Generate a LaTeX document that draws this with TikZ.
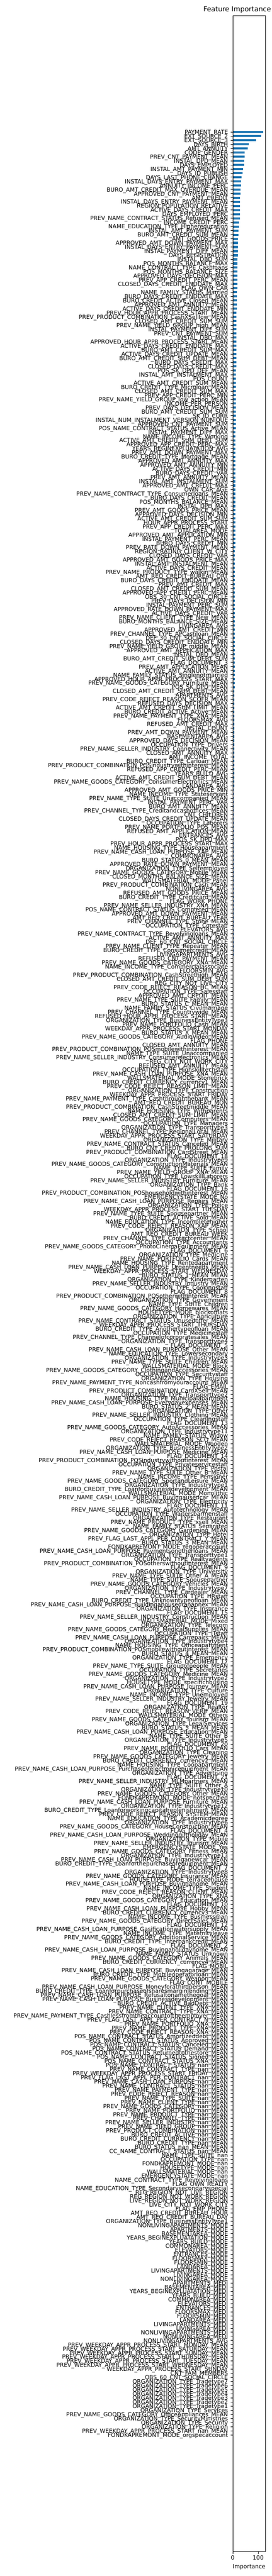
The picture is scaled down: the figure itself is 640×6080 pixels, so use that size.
\documentclass[tikz,border=0pt]{standalone}
\usepackage{fontspec}
\setmainfont{DejaVu Sans}
\definecolor{barblue}{HTML}{1F77B4}
\tikzset{
  lab/.style={anchor=base east, inner sep=0pt, font=\fontsize{13.4}{14}\selectfont},
  ticklab/.style={anchor=base, inner sep=0pt, font=\fontsize{13.4}{14}\selectfont},
  ttl/.style={anchor=base west, inner sep=0pt, font=\fontsize{16.2}{17}\selectfont},
  tickmark/.style={line width=0.8pt},
  barfill/.style={fill=barblue},
  axframe/.style={line width=0.9pt}
}
\begin{document}
\catcode`\_=12
\begin{tikzpicture}[x=1pt,y=-1pt]
\useasboundingbox (0,0) rectangle (640,6080);
\clip (0,0) rectangle (640,6080);
\fill[white] (0,0) rectangle (640,6080);
% bars
\foreach \a/\b/\w in {0/0/72.4,1/1/67.4,2/2/54.4,3/3/38.4,4/4/35.4,5/6/27.7,7/8/26.7,9/9/24.4,10/10/23.7,11/11/20.4,12/13/19.7,14/15/18.7,16/21/16.7,22/23/14.7,24/25/13.7,26/27/12.7,28/30/11.7,31/38/10.7,39/43/9.7,44/57/8.4,58/72/7.6,73/82/6.7,83/101/5.7,102/135/4.8,136/159/3.7,160/200/2.7,201/217/1.8,218/278/0.9}{
  \foreach \i in {\a,...,\b}{
    \fill[barfill] (548.3,{311.3+9.707*\i-2.5}) rectangle ++(\w,5);
  }
}
% labels and ticks
\foreach \t [count=\i from 0] in {PAYMENT_RATE,
EXT_SOURCE_2,
EXT_SOURCE_3,
DAYS_BIRTH,
AMT_ANNUITY,
CODE_GENDER,
PREV_CNT_PAYMENT_MEAN,
INSTAL_DPD_MEAN,
DAYS_EMPLOYED,
INSTAL_AMT_PAYMENT_MIN,
DAYS_ID_PUBLISH,
DAYS_LAST_PHONE_CHANGE,
INSTAL_DAYS_ENTRY_PAYMENT_MAX,
ANNUITY_INCOME_PERC,
BURO_AMT_CREDIT_MAX_OVERDUE_MEAN,
APPROVED_CNT_PAYMENT_MEAN,
AMT_CREDIT,
INSTAL_DAYS_ENTRY_PAYMENT_MEAN,
REGION_POPULATION_RELATIVE,
ACTIVE_DAYS_CREDIT_MAX,
DAYS_EMPLOYED_PERC,
PREV_NAME_CONTRACT_STATUS_Refused_MEAN,
INCOME_CREDIT_PERC,
NAME_EDUCATION_TYPE_Highereducation,
INSTAL_AMT_PAYMENT_SUM,
BURO_AMT_CREDIT_SUM_MEAN,
AMT_GOODS_PRICE,
APPROVED_AMT_DOWN_PAYMENT_MAX,
INSTAL_DAYS_ENTRY_PAYMENT_SUM,
INSTAL_PAYMENT_DIFF_MEAN,
DAYS_REGISTRATION,
INSTAL_DBD_SUM,
POS_MONTHS_BALANCE_MAX,
NAME_CONTRACT_TYPE_Cashloans,
POS_MONTHS_BALANCE_SIZE,
APPROVED_DAYS_DECISION_MAX,
PREV_APP_CREDIT_PERC_MEAN,
CLOSED_DAYS_CREDIT_ENDDATE_MAX,
FLAG_OWN_CAR,
NAME_FAMILY_STATUS_Married,
BURO_DAYS_CREDIT_ENDDATE_MAX,
BURO_CREDIT_ACTIVE_Closed_MEAN,
APPROVED_AMT_ANNUITY_MEAN,
ACTIVE_DAYS_CREDIT_ENDDATE_MIN,
PREV_HOUR_APPR_PROCESS_START_MEAN,
PREV_PRODUCT_COMBINATION_CashXSelllow_MEAN,
CLOSED_AMT_CREDIT_SUM_SUM,
PREV_NAME_YIELD_GROUP_high_MEAN,
INSTAL_PAYMENT_DIFF_SUM,
PREV_CNT_PAYMENT_SUM,
INSTAL_DBD_MAX,
APPROVED_HOUR_APPR_PROCESS_START_MEAN,
ACTIVE_DAYS_CREDIT_ENDDATE_MAX,
BURO_AMT_CREDIT_SUM_MAX,
ACTIVE_DAYS_CREDIT_UPDATE_MEAN,
BURO_AMT_CREDIT_SUM_DEBT_MEAN,
BURO_DAYS_CREDIT_MAX,
CLOSED_DAYS_CREDIT_MAX,
POS_SK_DPD_DEF_MEAN,
INSTAL_AMT_INSTALMENT_MAX,
POS_COUNT,
ACTIVE_AMT_CREDIT_SUM_MEAN,
BURO_CREDIT_TYPE_Microloan_MEAN,
CLOSED_AMT_CREDIT_SUM_MAX,
PREV_APP_CREDIT_PERC_MIN,
PREV_NAME_YIELD_GROUP_low_action_MEAN,
INCOME_PER_PERSON,
PREV_DAYS_DECISION_MEAN,
BURO_AMT_CREDIT_SUM_SUM,
SK_ID_CURR,
INSTAL_NUM_INSTALMENT_VERSION_NUNIQUE,
APPROVED_CNT_PAYMENT_SUM,
POS_NAME_CONTRACT_STATUS_Active_MEAN,
INSTAL_PAYMENT_DIFF_MAX,
NAME_INCOME_TYPE_Working,
ACTIVE_AMT_CREDIT_SUM_DEBT_SUM,
APPROVED_APP_CREDIT_PERC_MAX,
YEARS_BEGINEXPLUATATION_AVG,
PREV_AMT_DOWN_PAYMENT_MAX,
BURO_CREDIT_TYPE_Mortgage_MEAN,
APPROVED_AMT_ANNUITY_MAX,
APPROVED_AMT_ANNUITY_MIN,
ACTIVE_DAYS_CREDIT_MIN,
BURO_DAYS_CREDIT_VAR,
PREV_AMT_ANNUITY_MEAN,
INSTAL_AMT_INSTALMENT_SUM,
APPROVED_AMT_CREDIT_MAX,
OWN_CAR_AGE,
PREV_NAME_CONTRACT_TYPE_Consumerloans_MEAN,
BURO_DAYS_CREDIT_MEAN,
POS_MONTHS_BALANCE_MEAN,
INSTAL_DPD_MAX,
PREV_AMT_GOODS_PRICE_MEAN,
APPROVED_DAYS_DECISION_MIN,
ACTIVE_AMT_CREDIT_SUM_SUM,
HOUR_APPR_PROCESS_START,
PREV_APP_CREDIT_PERC_MAX,
TOTALAREA_MODE,
APPROVED_AMT_APPLICATION_MIN,
INSTAL_PAYMENT_PERC_MEAN,
BURO_DAYS_CREDIT_MIN,
PREV_RATE_DOWN_PAYMENT_MEAN,
REGION_RATING_CLIENT_W_CITY,
CLOSED_DAYS_CREDIT_VAR,
APPROVED_AMT_GOODS_PRICE_MAX,
INSTAL_AMT_INSTALMENT_MEAN,
ACTIVE_DAYS_CREDIT_MEAN,
PREV_NAME_PRODUCT_TYPE_walkin_MEAN,
AMT_REQ_CREDIT_BUREAU_QRT,
BURO_DAYS_CREDIT_ENDDATE_MEAN,
PREV_AMT_CREDIT_MAX,
CLOSED_AMT_CREDIT_SUM_MEAN,
APPROVED_APP_CREDIT_PERC_MEAN,
OBS_30_CNT_SOCIAL_CIRCLE,
PREV_DAYS_DECISION_MIN,
INSTAL_PAYMENT_PERC_SUM,
APPROVED_RATE_DOWN_PAYMENT_MAX,
ACTIVE_DAYS_CREDIT_VAR,
PREV_NAME_CLIENT_TYPE_New_MEAN,
BURO_MONTHS_BALANCE_SIZE_MEAN,
LIVINGAREA_AVG,
APPROVED_AMT_CREDIT_MIN,
PREV_CHANNEL_TYPE_APCashloan_MEAN,
DEF_30_CNT_SOCIAL_CIRCLE,
CLOSED_DAYS_CREDIT_ENDDATE_MIN,
PREV_NAME_YIELD_GROUP_middle_MEAN,
APPROVED_AMT_APPLICATION_MAX,
INSTAL_DBD_MEAN,
BURO_AMT_CREDIT_SUM_DEBT_SUM,
FLAG_DOCUMENT_3,
PREV_AMT_APPLICATION_MEAN,
ACTIVE_AMT_ANNUITY_MEAN,
NAME_FAMILY_STATUS_Singlenotmarried,
APPROVED_HOUR_APPR_PROCESS_START_MAX,
PREV_NAME_GOODS_CATEGORY_Furniture_MEAN,
POS_SK_DPD_MEAN,
CLOSED_AMT_CREDIT_SUM_DEBT_MEAN,
APARTMENTS_AVG,
PREV_CODE_REJECT_REASON_SCOFR_MEAN,
REFUSED_DAYS_DECISION_MAX,
ACTIVE_AMT_CREDIT_SUM_LIMIT_MEAN,
BURO_CREDIT_ACTIVE_Active_MEAN,
PREV_NAME_PAYMENT_TYPE_XNA_MEAN,
FLOORSMAX_AVG,
REFUSED_AMT_CREDIT_MAX,
INSTAL_COUNT,
PREV_AMT_DOWN_PAYMENT_MEAN,
BASEMENTAREA_AVG,
APPROVED_DAYS_DECISION_MEAN,
OCCUPATION_TYPE_Drivers,
PREV_NAME_SELLER_INDUSTRY_Connectivity_MEAN,
CLOSED_AMT_ANNUITY_MAX,
AMT_INCOME_TOTAL,
BURO_CREDIT_TYPE_Carloan_MEAN,
PREV_PRODUCT_COMBINATION_POSindustrywithinterest_MEAN,
REFUSED_APP_CREDIT_PERC_MEAN,
YEARS_BUILD_AVG,
ACTIVE_AMT_CREDIT_SUM_DEBT_MEAN,
PREV_NAME_GOODS_CATEGORY_ConsumerElectronics_MEAN,
LANDAREA_AVG,
APPROVED_AMT_GOODS_PRICE_MIN,
NAME_INCOME_TYPE_Stateservant,
PREV_NAME_TYPE_SUITE_Unaccompanied_MEAN,
INSTAL_PAYMENT_PERC_VAR,
BURO_AMT_ANNUITY_MEAN,
PREV_CHANNEL_TYPE_Creditandcashoffices_MEAN,
CNT_CHILDREN,
CLOSED_DAYS_CREDIT_UPDATE_MEAN,
OCCUPATION_TYPE_Laborers,
PREV_NAME_PORTFOLIO_POS_MEAN,
REFUSED_AMT_APPLICATION_MEAN,
ENTRANCES_AVG,
POS_SK_DPD_MAX,
PREV_HOUR_APPR_PROCESS_START_MAX,
NAME_HOUSING_TYPE_Houseapartment,
PREV_NAME_CASH_LOAN_PURPOSE_XAP_MEAN,
COMMONAREA_AVG,
BURO_STATUS_0_MEAN_MEAN,
APPROVED_RATE_DOWN_PAYMENT_MEAN,
ORGANIZATION_TYPE_Selfemployed,
PREV_NAME_GOODS_CATEGORY_Mobile_MEAN,
CLOSED_MONTHS_BALANCE_SIZE_MEAN,
WALLSMATERIAL_MODE_Panel,
PREV_PRODUCT_COMBINATION_Cash_MEAN,
NONLIVINGAREA_AVG,
REFUSED_AMT_GOODS_PRICE_MEAN,
BURO_CREDIT_TYPE_Creditcard_MEAN,
FLAG_WORK_PHONE,
PREV_NAME_SELLER_INDUSTRY_XNA_MEAN,
POS_NAME_CONTRACT_STATUS_Completed_MEAN,
APPROVED_AMT_DOWN_PAYMENT_MEAN,
AMT_REQ_CREDIT_BUREAU_YEAR,
PREV_CHANNEL_TYPE_Stone_MEAN,
OCCUPATION_TYPE_Corestaff,
ELEVATORS_AVG,
PREV_NAME_CONTRACT_TYPE_Revolvingloans_MEAN,
ACTIVE_AMT_ANNUITY_MAX,
DEF_60_CNT_SOCIAL_CIRCLE,
PREV_NAME_CLIENT_TYPE_Repeater_MEAN,
BURO_CREDIT_TYPE_Consumercredit_MEAN,
LIVINGAPARTMENTS_AVG,
REFUSED_CNT_PAYMENT_MEAN,
PREV_NAME_GOODS_CATEGORY_XNA_MEAN,
NAME_INCOME_TYPE_Commercialassociate,
FLOORSMIN_AVG,
PREV_PRODUCT_COMBINATION_CashStreethigh_MEAN,
CLOSED_AMT_CREDIT_SUM_DEBT_SUM,
REG_CITY_NOT_LIVE_CITY,
PREV_CODE_REJECT_REASON_HC_MEAN,
OCCUPATION_TYPE_Salesstaff,
APPROVED_AMT_CREDIT_MEAN,
PREV_NAME_TYPE_SUITE_Family_MEAN,
BURO_STATUS_C_MEAN_MEAN,
NAME_FAMILY_STATUS_Civilmarriage,
PREV_CHANNEL_TYPE_Countrywide_MEAN,
REFUSED_HOUR_APPR_PROCESS_START_MEAN,
ORGANIZATION_TYPE_BusinessEntityType3,
PREV_NAME_PORTFOLIO_Cash_MEAN,
WEEKDAY_APPR_PROCESS_START_MONDAY,
BURO_STATUS_X_MEAN_MEAN,
PREV_NAME_GOODS_CATEGORY_AudioVideo_MEAN,
FLAG_PHONE,
CLOSED_AMT_ANNUITY_MEAN,
PREV_PRODUCT_COMBINATION_POSmobilewithinterest_MEAN,
NAME_TYPE_SUITE_Unaccompanied,
PREV_NAME_SELLER_INDUSTRY_Consumerelectronics_MEAN,
REG_CITY_NOT_WORK_CITY,
REFUSED_AMT_ANNUITY_MEAN,
OCCUPATION_TYPE_Highskilltechstaff,
PREV_NAME_CASH_LOAN_PURPOSE_XNA_MEAN,
WALLSMATERIAL_MODE_Stonebrick,
BURO_CREDIT_CURRENCY_currency1_MEAN,
PREV_CODE_REJECT_REASON_LIMIT_MEAN,
ORGANIZATION_TYPE_Construction,
WEEKDAY_APPR_PROCESS_START_FRIDAY,
PREV_NAME_PAYMENT_TYPE_Cashthroughthebank_MEAN,
AMT_REQ_CREDIT_BUREAU_MON,
PREV_PRODUCT_COMBINATION_CashStreetmiddle_MEAN,
NAME_HOUSING_TYPE_Withparents,
CLOSED_AMT_CREDIT_SUM_LIMIT_MEAN,
PREV_NAME_GOODS_CATEGORY_Computers_MEAN,
OCCUPATION_TYPE_Managers,
ORGANIZATION_TYPE_Transporttype3,
PREV_CHANNEL_TYPE_RegionalLocal_MEAN,
WEEKDAY_APPR_PROCESS_START_SATURDAY,
ORGANIZATION_TYPE_Military,
PREV_NAME_CONTRACT_STATUS_Canceled_MEAN,
BURO_CNT_CREDIT_PROLONG_SUM,
PREV_PRODUCT_COMBINATION_CardStreet_MEAN,
FLAG_DOCUMENT_18,
ORGANIZATION_TYPE_Industrytype9,
PREV_NAME_GOODS_CATEGORY_ConstructionMaterials_MEAN,
NAME_TYPE_SUITE_Family,
PREV_NAME_YIELD_GROUP_XNA_MEAN,
OCCUPATION_TYPE_LowskillLaborers,
PREV_NAME_SELLER_INDUSTRY_Furniture_MEAN,
ORGANIZATION_TYPE_Bank,
FLAG_DOCUMENT_16,
PREV_PRODUCT_COMBINATION_POShouseholdwithinterest_MEAN,
EMERGENCYSTATE_MODE_No,
PREV_NAME_CASH_LOAN_PURPOSE_Repairs_MEAN,
ORGANIZATION_TYPE_Police,
WEEKDAY_APPR_PROCESS_START_TUESDAY,
PREV_NAME_TYPE_SUITE_Spousepartner_MEAN,
BURO_CREDIT_ACTIVE_Sold_MEAN,
NAME_EDUCATION_TYPE_Incompletehigher,
PREV_CODE_REJECT_REASON_XAP_MEAN,
ORGANIZATION_TYPE_School,
AMT_REQ_CREDIT_BUREAU_WEEK,
PREV_CHANNEL_TYPE_Contactcenter_MEAN,
OCCUPATION_TYPE_Accountants,
PREV_NAME_GOODS_CATEGORY_PhotoCinemaEquipment_MEAN,
FLAG_DOCUMENT_6,
ORGANIZATION_TYPE_Medicine,
PREV_NAME_PORTFOLIO_Cards_MEAN,
NAME_HOUSING_TYPE_Rentedapartment,
PREV_NAME_CASH_LOAN_PURPOSE_Urgentneeds_MEAN,
WEEKDAY_APPR_PROCESS_START_WEDNESDAY,
BURO_STATUS_1_MEAN_MEAN,
ORGANIZATION_TYPE_Kindergarten,
PREV_NAME_SELLER_INDUSTRY_Industry_MEAN,
OCCUPATION_TYPE_Cookingstaff,
FLAG_DOCUMENT_8,
PREV_PRODUCT_COMBINATION_POSotherwithinterest_MEAN,
ORGANIZATION_TYPE_Government,
NAME_TYPE_SUITE_Children,
PREV_NAME_GOODS_CATEGORY_Homewares_MEAN,
HOUSETYPE_MODE_blockofflats,
ORGANIZATION_TYPE_Agriculture,
PREV_NAME_CONTRACT_STATUS_Unusedoffer_MEAN,
WEEKDAY_APPR_PROCESS_START_THURSDAY,
BURO_CREDIT_TYPE_Anothertypeofloan_MEAN,
OCCUPATION_TYPE_Medicinestaff,
PREV_CHANNEL_TYPE_Channelofcorporatesales_MEAN,
ORGANIZATION_TYPE_Transporttype4,
FLAG_DOCUMENT_5,
PREV_NAME_CASH_LOAN_PURPOSE_Other_MEAN,
NAME_EDUCATION_TYPE_Lowersecondary,
ORGANIZATION_TYPE_Industrytype3,
PREV_NAME_TYPE_SUITE_Children_MEAN,
WALLSMATERIAL_MODE_Block,
PREV_NAME_GOODS_CATEGORY_ClothingandAccessories_MEAN,
OCCUPATION_TYPE_Securitystaff,
ORGANIZATION_TYPE_Housing,
PREV_NAME_PAYMENT_TYPE_Noncashfromyouraccount_MEAN,
FLAG_EMAIL,
PREV_PRODUCT_COMBINATION_CardXSell_MEAN,
ORGANIZATION_TYPE_Transporttype2,
NAME_HOUSING_TYPE_Municipalapartment,
PREV_NAME_CASH_LOAN_PURPOSE_Everydayexpenses_MEAN,
BURO_STATUS_2_MEAN_MEAN,
ORGANIZATION_TYPE_Other,
PREV_NAME_SELLER_INDUSTRY_Clothing_MEAN,
OCCUPATION_TYPE_Cleaningstaff,
FLAG_DOCUMENT_13,
PREV_NAME_GOODS_CATEGORY_AutoAccessories_MEAN,
ORGANIZATION_TYPE_Industrytype11,
NAME_FAMILY_STATUS_Widow,
PREV_CODE_REJECT_REASON_SCO_MEAN,
WALLSMATERIAL_MODE_Wooden,
ORGANIZATION_TYPE_BusinessEntityType2,
PREV_NAME_CASH_LOAN_PURPOSE_Medicine_MEAN,
FLAG_DOCUMENT_14,
PREV_PRODUCT_COMBINATION_POSindustrywithoutinterest_MEAN,
OCCUPATION_TYPE_Privateservicestaff,
ORGANIZATION_TYPE_Postal,
PREV_NAME_TYPE_SUITE_Other_B_MEAN,
NAME_INCOME_TYPE_Pensioner,
PREV_NAME_GOODS_CATEGORY_SportandLeisure_MEAN,
ORGANIZATION_TYPE_Industrytype1,
BURO_CREDIT_TYPE_Loanforbusinessdevelopment_MEAN,
WALLSMATERIAL_MODE_Monolithic,
PREV_NAME_CASH_LOAN_PURPOSE_Buyingausedcar_MEAN,
ORGANIZATION_TYPE_Electricity,
FLAG_DOCUMENT_11,
PREV_NAME_SELLER_INDUSTRY_Autotechnology_MEAN,
OCCUPATION_TYPE_Waitersbarmenstaff,
ORGANIZATION_TYPE_Restaurant,
PREV_NAME_PRODUCT_TYPE_xsell_MEAN,
NAME_FAMILY_STATUS_Separated,
PREV_NAME_GOODS_CATEGORY_Gardening_MEAN,
ORGANIZATION_TYPE_Hotel,
PREV_FLAG_LAST_APPL_PER_CONTRACT_Y_MEAN,
BURO_STATUS_3_MEAN_MEAN,
FONDKAPREMONT_MODE_regoperaccount,
PREV_NAME_CASH_LOAN_PURPOSE_Paymentsonotherloans_MEAN,
ORGANIZATION_TYPE_Transporttype1,
OCCUPATION_TYPE_Realtyagents,
PREV_PRODUCT_COMBINATION_POSotherswithoutinterest_MEAN,
FLAG_DOCUMENT_9,
ORGANIZATION_TYPE_University,
PREV_NAME_TYPE_SUITE_Other_A_MEAN,
NAME_TYPE_SUITE_Spousepartner,
PREV_NAME_GOODS_CATEGORY_Vehicles_MEAN,
ORGANIZATION_TYPE_Industrytype7,
PREV_CHANNEL_TYPE_Cardealer_MEAN,
OCCUPATION_TYPE_HRstaff,
BURO_CREDIT_TYPE_Unknowntypeofloan_MEAN,
PREV_NAME_CASH_LOAN_PURPOSE_Buildingahouseoranannex_MEAN,
ORGANIZATION_TYPE_Insurance,
FLAG_DOCUMENT_15,
PREV_NAME_SELLER_INDUSTRY_Construction_MEAN,
WALLSMATERIAL_MODE_Mixed,
ORGANIZATION_TYPE_Telecom,
PREV_NAME_GOODS_CATEGORY_MedicalSupplies_MEAN,
OCCUPATION_TYPE_ITstaff,
PREV_NAME_CASH_LOAN_PURPOSE_Carrepairs_MEAN,
ORGANIZATION_TYPE_Industrytype4,
NAME_HOUSING_TYPE_Officeapartment,
PREV_PRODUCT_COMBINATION_POSmobilewithoutinterest_MEAN,
BURO_STATUS_4_MEAN_MEAN,
ORGANIZATION_TYPE_Emergency,
FLAG_DOCUMENT_17,
PREV_NAME_TYPE_SUITE_Groupofpeople_MEAN,
OCCUPATION_TYPE_Secretaries,
PREV_NAME_GOODS_CATEGORY_Medicine_MEAN,
ORGANIZATION_TYPE_Industrytype2,
HOUSETYPE_MODE_specifichousing,
PREV_NAME_CASH_LOAN_PURPOSE_Journey_MEAN,
ORGANIZATION_TYPE_Culture,
NAME_INCOME_TYPE_Unemployed,
PREV_NAME_SELLER_INDUSTRY_Jewelry_MEAN,
FLAG_DOCUMENT_19,
ORGANIZATION_TYPE_Realtor,
PREV_CODE_REJECT_REASON_VERIF_MEAN,
WALLSMATERIAL_MODE_Others,
PREV_NAME_GOODS_CATEGORY_Tourism_MEAN,
ORGANIZATION_TYPE_LegalServices,
BURO_STATUS_5_MEAN_MEAN,
PREV_NAME_CASH_LOAN_PURPOSE_Education_MEAN,
NAME_TYPE_SUITE_Other_B,
ORGANIZATION_TYPE_Industrytype5,
FLAG_DOCUMENT_20,
PREV_NAME_PORTFOLIO_Cars_MEAN,
ORGANIZATION_TYPE_Cleaning,
PREV_NAME_GOODS_CATEGORY_Jewelry_MEAN,
BURO_CREDIT_CURRENCY_currency2_MEAN,
NAME_HOUSING_TYPE_Coopapartment,
PREV_NAME_CASH_LOAN_PURPOSE_Purchaseofelectronicequipment_MEAN,
ORGANIZATION_TYPE_Advertising,
FLAG_DOCUMENT_21,
PREV_NAME_SELLER_INDUSTRY_MLMpartners_MEAN,
NAME_TYPE_SUITE_Other_A,
ORGANIZATION_TYPE_Industrytype10,
PREV_NAME_GOODS_CATEGORY_Other_MEAN,
FONDKAPREMONT_MODE_notspecified,
PREV_NAME_CASH_LOAN_PURPOSE_Furniture_MEAN,
ORGANIZATION_TYPE_Industrytype12,
BURO_CREDIT_TYPE_Loanforworkingcapitalreplenishment_MEAN,
PREV_CODE_REJECT_REASON_SYSTEM_MEAN,
NAME_EDUCATION_TYPE_Academicdegree,
ORGANIZATION_TYPE_Industrytype6,
PREV_NAME_GOODS_CATEGORY_HouseConstruction_MEAN,
FLAG_DOCUMENT_4,
PREV_NAME_CASH_LOAN_PURPOSE_Weddinggiftholiday_MEAN,
ORGANIZATION_TYPE_Mobile,
PREV_NAME_SELLER_INDUSTRY_Tourism_MEAN,
EMERGENCYSTATE_MODE_Yes,
PREV_NAME_GOODS_CATEGORY_Fitness_MEAN,
ORGANIZATION_TYPE_Industrytype13,
PREV_NAME_CASH_LOAN_PURPOSE_Buyinganewcar_MEAN,
BURO_CREDIT_TYPE_Loanforthepurchaseofequipment_MEAN,
FLAG_DOCUMENT_7,
ORGANIZATION_TYPE_Industrytype8,
PREV_NAME_GOODS_CATEGORY_Insurance_MEAN,
HOUSETYPE_MODE_terracedhouse,
PREV_NAME_CASH_LOAN_PURPOSE_Buyingahome_MEAN,
NAME_INCOME_TYPE_Student,
PREV_CODE_REJECT_REASON_CLIENT_MEAN,
ORGANIZATION_TYPE_XNA,
PREV_NAME_GOODS_CATEGORY_Education_MEAN,
FLAG_DOCUMENT_10,
PREV_NAME_CASH_LOAN_PURPOSE_Hobby_MEAN,
BURO_CREDIT_CURRENCY_currency3_MEAN,
NAME_INCOME_TYPE_Businessman,
PREV_NAME_GOODS_CATEGORY_DirectSales_MEAN,
FLAG_DOCUMENT_12,
PREV_NAME_CASH_LOAN_PURPOSE_Gasificationwatersupply_MEAN,
NAME_INCOME_TYPE_Maternityleave,
PREV_NAME_GOODS_CATEGORY_AdditionalService_MEAN,
BURO_CREDIT_TYPE_Interbankcredit_MEAN,
FLAG_DOCUMENT_2,
PREV_NAME_CASH_LOAN_PURPOSE_Buyingaholidayhome_MEAN,
NAME_FAMILY_STATUS_Unknown,
PREV_NAME_GOODS_CATEGORY_Animals_MEAN,
BURO_CREDIT_CURRENCY_currency4_MEAN,
FLAG_MOBIL,
PREV_NAME_CASH_LOAN_PURPOSE_Buyingagarage_MEAN,
BURO_CREDIT_TYPE_Mobileoperatorloan_MEAN,
PREV_NAME_GOODS_CATEGORY_Weapon_MEAN,
FLAG_CONT_MOBILE,
PREV_NAME_CASH_LOAN_PURPOSE_Moneyforathirdperson_MEAN,
BURO_CREDIT_TYPE_Loanforpurchaseofsharesmarginlending_MEAN,
PREV_NAME_CASH_LOAN_PURPOSE_Refusaltonamethegoal_MEAN,
PREV_NAME_CASH_LOAN_PURPOSE_Businessdevelopment_MEAN,
BURO_CREDIT_ACTIVE_BadDebt_MEAN,
PREV_NAME_CLIENT_TYPE_XNA_MEAN,
PREV_NAME_CONTRACT_TYPE_XNA_MEAN,
PREV_NAME_PAYMENT_TYPE_Cashlessfromtheaccountoftheemployer_MEAN,
PREV_FLAG_LAST_APPL_PER_CONTRACT_N_MEAN,
PREV_NAME_PORTFOLIO_XNA_MEAN,
PREV_NAME_PRODUCT_TYPE_XNA_MEAN,
PREV_CODE_REJECT_REASON_XNA_MEAN,
POS_NAME_CONTRACT_STATUS_Amortizeddebt_MEAN,
POS_NAME_CONTRACT_STATUS_Approved_MEAN,
POS_NAME_CONTRACT_STATUS_Canceled_MEAN,
POS_NAME_CONTRACT_STATUS_Demand_MEAN,
POS_NAME_CONTRACT_STATUS_Returnedtothestore_MEAN,
POS_NAME_CONTRACT_STATUS_Signed_MEAN,
POS_NAME_CONTRACT_STATUS_XNA_MEAN,
POS_NAME_CONTRACT_STATUS_nan_MEAN,
PREV_NAME_CONTRACT_TYPE_nan_MEAN,
PREV_WEEKDAY_APPR_PROCESS_START_FRIDAY_MEAN,
PREV_FLAG_LAST_APPL_PER_CONTRACT_nan_MEAN,
PREV_NAME_CASH_LOAN_PURPOSE_nan_MEAN,
PREV_NAME_CONTRACT_STATUS_nan_MEAN,
PREV_NAME_PAYMENT_TYPE_nan_MEAN,
PREV_CODE_REJECT_REASON_nan_MEAN,
PREV_NAME_TYPE_SUITE_nan_MEAN,
PREV_NAME_CLIENT_TYPE_nan_MEAN,
PREV_NAME_GOODS_CATEGORY_nan_MEAN,
PREV_NAME_PORTFOLIO_nan_MEAN,
PREV_NAME_PRODUCT_TYPE_nan_MEAN,
PREV_CHANNEL_TYPE_nan_MEAN,
PREV_NAME_SELLER_INDUSTRY_nan_MEAN,
PREV_NAME_YIELD_GROUP_nan_MEAN,
PREV_PRODUCT_COMBINATION_nan_MEAN,
BURO_CREDIT_ACTIVE_nan_MEAN,
BURO_CREDIT_CURRENCY_nan_MEAN,
BURO_CREDIT_TYPE_nan_MEAN,
BURO_STATUS_nan_MEAN_MEAN,
CC_NAME_CONTRACT_STATUS_nan_MEAN,
NAME_TYPE_SUITE_nan,
OCCUPATION_TYPE_nan,
FONDKAPREMONT_MODE_nan,
HOUSETYPE_MODE_nan,
WALLSMATERIAL_MODE_nan,
EMERGENCYSTATE_MODE_nan,
NAME_CONTRACT_TYPE_Revolvingloans,
FLAG_OWN_REALTY,
NAME_EDUCATION_TYPE_Secondarysecondaryspecial,
REG_REGION_NOT_LIVE_REGION,
REG_REGION_NOT_WORK_REGION,
LIVE_REGION_NOT_WORK_REGION,
LIVE_CITY_NOT_WORK_CITY,
FLAG_EMP_PHONE,
AMT_REQ_CREDIT_BUREAU_HOUR,
AMT_REQ_CREDIT_BUREAU_DAY,
ORGANIZATION_TYPE_BusinessEntityType1,
NONLIVINGAPARTMENTS_MODE,
APARTMENTS_MODE,
BASEMENTAREA_MODE,
YEARS_BEGINEXPLUATATION_MODE,
YEARS_BUILD_MODE,
COMMONAREA_MODE,
ELEVATORS_MODE,
ENTRANCES_MODE,
FLOORSMAX_MODE,
FLOORSMIN_MODE,
LANDAREA_MODE,
LIVINGAPARTMENTS_MODE,
LIVINGAREA_MODE,
NONLIVINGAREA_MODE,
APARTMENTS_MEDI,
BASEMENTAREA_MEDI,
YEARS_BEGINEXPLUATATION_MEDI,
YEARS_BUILD_MEDI,
COMMONAREA_MEDI,
ELEVATORS_MEDI,
ENTRANCES_MEDI,
FLOORSMAX_MEDI,
FLOORSMIN_MEDI,
LANDAREA_MEDI,
LIVINGAPARTMENTS_MEDI,
LIVINGAREA_MEDI,
NONLIVINGAPARTMENTS_MEDI,
NONLIVINGAREA_MEDI,
NONLIVINGAPARTMENTS_AVG,
PREV_WEEKDAY_APPR_PROCESS_START_MONDAY_MEAN,
PREV_WEEKDAY_APPR_PROCESS_START_SATURDAY_MEAN,
PREV_WEEKDAY_APPR_PROCESS_START_SUNDAY_MEAN,
PREV_WEEKDAY_APPR_PROCESS_START_THURSDAY_MEAN,
PREV_WEEKDAY_APPR_PROCESS_START_TUESDAY_MEAN,
PREV_WEEKDAY_APPR_PROCESS_START_WEDNESDAY_MEAN,
WEEKDAY_APPR_PROCESS_START_SUNDAY,
CNT_FAM_MEMBERS,
OBS_60_CNT_SOCIAL_CIRCLE,
ORGANIZATION_TYPE_Tradetype7,
ORGANIZATION_TYPE_Tradetype6,
ORGANIZATION_TYPE_Tradetype5,
ORGANIZATION_TYPE_Tradetype4,
ORGANIZATION_TYPE_Tradetype3,
ORGANIZATION_TYPE_Tradetype2,
ORGANIZATION_TYPE_Tradetype1,
ORGANIZATION_TYPE_Services,
PREV_NAME_GOODS_CATEGORY_OfficeAppliances_MEAN,
ORGANIZATION_TYPE_SecurityMinistries,
ORGANIZATION_TYPE_Security,
ORGANIZATION_TYPE_Religion,
PREV_WEEKDAY_APPR_PROCESS_START_nan_MEAN,
FONDKAPREMONT_MODE_orgspecaccount}{
  \node[lab] (l\i) at (537.3,{311.3+9.707*\i+5.2}) {\t};
  \draw[tickmark] (543.3,{311.3+9.707*\i}) -- (548.3,{311.3+9.707*\i});
}
% axes frame
\draw[axframe] (548.3,37.3) rectangle (625.3,6022.3);
% x ticks
\draw[tickmark] (548.3,6022.3) -- (548.3,6027.3);
\draw[tickmark] (608.3,6022.3) -- (608.3,6027.3);
\node[ticklab] (x0) at (548.3,6041.7) {0};
\node[ticklab] (x100) at (608.3,6041.7) {100};
\node[ticklab] (xlab) at (586.8,6062) {Importance};
\node[ttl] (title) at (479,27) {Feature Importance};
\end{tikzpicture}
\end{document}
